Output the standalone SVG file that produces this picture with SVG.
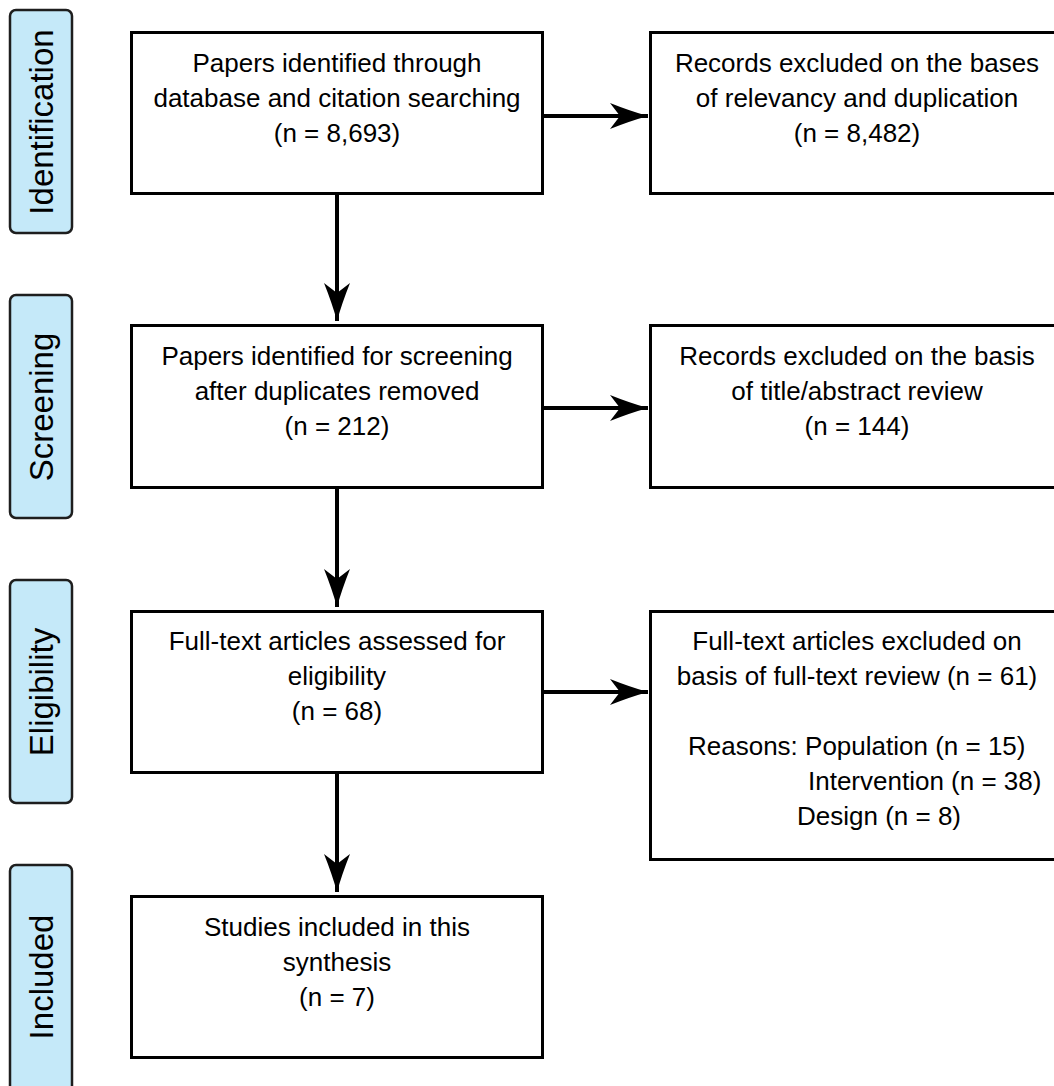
<svg xmlns="http://www.w3.org/2000/svg" width="1054" height="1086" viewBox="0 0 1054 1086">
<defs>
<style>
.stage{fill:#c5e9f9;stroke:#1e1e1e;stroke-width:2.5}
.stxt{font-family:"Liberation Sans",Arial,sans-serif;font-size:33px;fill:#000;text-anchor:middle}
.box{fill:#fff;stroke:#000;stroke-width:3}
.t{font-family:"Liberation Sans",Arial,sans-serif;font-size:26px;fill:#000;text-anchor:middle}
.ts{font-family:"Liberation Sans",Arial,sans-serif;font-size:26px;fill:#000}
.edge{stroke:#000;stroke-width:4;fill:none}
</style>
<marker id="arr" markerUnits="userSpaceOnUse" markerWidth="40" markerHeight="30" viewBox="0 0 40 30" refX="38" refY="15" orient="auto">
<path d="M0,2 Q20,10 38,15 Q20,20 0,28 L10,15 Z" fill="#000"/>
</marker>
</defs>
<g id="stage-identification"><rect class="stage" x="10" y="10" width="62" height="223" rx="6"/><text class="stxt" transform="translate(53,122) rotate(-90)">Identification</text></g>
<g id="stage-screening"><rect class="stage" x="10" y="295" width="62" height="223" rx="6"/><text class="stxt" transform="translate(53,407) rotate(-90)">Screening</text></g>
<g id="stage-eligibility"><rect class="stage" x="10" y="580" width="62" height="223" rx="6"/><text class="stxt" transform="translate(53,692) rotate(-90)">Eligibility</text></g>
<g id="stage-included"><rect class="stage" x="10" y="865" width="62" height="240" rx="6"/><text class="stxt" transform="translate(53,977) rotate(-90)">Included</text></g>

<g id="connectors">
<line class="edge" x1="337" y1="194" x2="337" y2="321" marker-end="url(#arr)"/>
<line class="edge" x1="337" y1="488" x2="337" y2="607" marker-end="url(#arr)"/>
<line class="edge" x1="337" y1="773" x2="337" y2="892" marker-end="url(#arr)"/>
<line class="edge" x1="544" y1="116" x2="648" y2="116" marker-end="url(#arr)"/>
<line class="edge" x1="544" y1="408" x2="648" y2="408" marker-end="url(#arr)"/>
<line class="edge" x1="544" y1="692" x2="648" y2="692" marker-end="url(#arr)"/>
</g>

<g id="n1"><rect class="box" x="131.5" y="32.5" width="411" height="161"/>
<text class="t" x="337" y="72">Papers identified through</text>
<text class="t" x="337" y="107">database and citation searching</text>
<text class="t" x="337" y="142">(n = 8,693)</text></g>
<g id="n2"><rect class="box" x="131.5" y="325.5" width="411" height="162"/>
<text class="t" x="337" y="365">Papers identified for screening</text>
<text class="t" x="337" y="400">after duplicates removed</text>
<text class="t" x="337" y="435">(n = 212)</text></g>
<g id="n3"><rect class="box" x="131.5" y="611.5" width="411" height="161"/>
<text class="t" x="337" y="650">Full-text articles assessed for</text>
<text class="t" x="337" y="685">eligibility</text>
<text class="t" x="337" y="720">(n = 68)</text></g>
<g id="n4"><rect class="box" x="131.5" y="896.5" width="411" height="161"/>
<text class="t" x="337" y="936">Studies included in this</text>
<text class="t" x="337" y="971">synthesis</text>
<text class="t" x="337" y="1006">(n = 7)</text></g>

<g id="r1"><rect class="box" x="650.5" y="32.5" width="413" height="161"/>
<text class="t" x="857" y="72">Records excluded on the bases</text>
<text class="t" x="857" y="107">of relevancy and duplication</text>
<text class="t" x="857" y="142">(n = 8,482)</text></g>
<g id="r2"><rect class="box" x="650.5" y="325.5" width="413" height="162"/>
<text class="t" x="857" y="365">Records excluded on the basis</text>
<text class="t" x="857" y="400">of title/abstract review</text>
<text class="t" x="857" y="435">(n = 144)</text></g>
<g id="r3"><rect class="box" x="650.5" y="611.5" width="413" height="248"/>
<text class="t" x="857" y="650">Full-text articles excluded on</text>
<text class="t" x="857" y="685">basis of full-text review (n = 61)</text>
<text class="ts" x="688" y="755">Reasons: Population (n = 15)</text>
<text class="ts" x="808" y="790">Intervention (n = 38)</text>
<text class="ts" x="797" y="825">Design (n = 8)</text></g>
</svg>
